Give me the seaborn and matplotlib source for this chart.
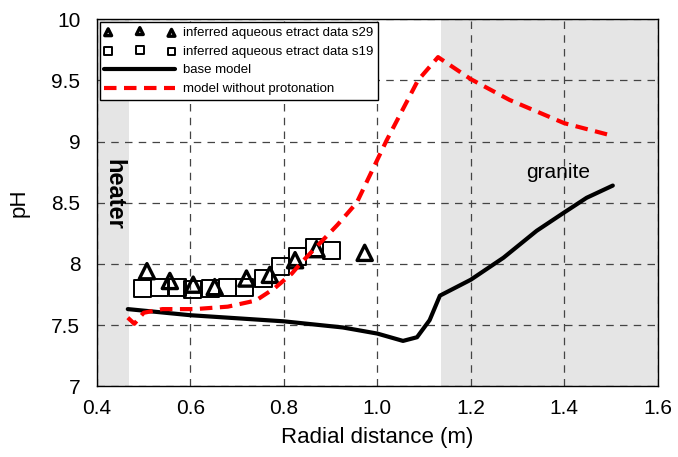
import matplotlib
matplotlib.use("Agg")
import matplotlib.pyplot as plt
import seaborn as sns
import pandas as pd

s29_x = [0.507, 0.556, 0.606, 0.652, 0.72, 0.77, 0.824, 0.87, 0.973]
s29_ph = [7.94, 7.86, 7.83, 7.81, 7.88, 7.91, 8.03, 8.12, 8.09]

s19_x = [0.498, 0.533, 0.573, 0.605, 0.642, 0.68, 0.715, 0.757, 0.793, 0.83, 0.866, 0.903]
s19_ph = [7.80, 7.81, 7.81, 7.79, 7.80, 7.81, 7.81, 7.88, 7.98, 8.06, 8.13, 8.11]

# model curves
base_x = [0.466, 0.6, 0.8, 0.926, 1.0, 1.055, 1.085, 1.112, 1.134, 1.2, 1.27, 1.341, 1.40, 1.448, 1.504]
base_ph = [7.63, 7.58, 7.53, 7.48, 7.43, 7.37, 7.40, 7.54, 7.74, 7.87, 8.05, 8.27, 8.42, 8.54, 8.64]

noprot_x = [0.466, 0.48, 0.50, 0.54, 0.61, 0.68, 0.74, 0.78, 0.817, 0.835, 0.87, 0.915, 0.956,
            1.02, 1.087, 1.13, 1.2, 1.283, 1.4, 1.50]
noprot_ph = [7.56, 7.51, 7.60, 7.63, 7.63, 7.65, 7.70, 7.80, 7.92, 8.0, 8.14, 8.32, 8.5,
             9.01, 9.5, 9.69, 9.51, 9.34, 9.15, 9.05]

heater_edge = 0.468
granite_edge = 1.136

sns.set_style("white")
plt.rcParams['font.family'] = ['Liberation Sans', 'DejaVu Sans']
plt.rcParams['text.color'] = 'black'
plt.rcParams['axes.labelcolor'] = 'black'
plt.rcParams['xtick.color'] = 'black'
plt.rcParams['ytick.color'] = 'black'

fig = plt.figure(figsize=(6.78, 4.57), dpi=100)
ax = fig.add_axes([0.143, 0.155, 0.827, 0.803])

ax.axvspan(0.4, heater_edge, color='#e5e5e5', zorder=0, lw=0)
ax.axvspan(granite_edge, 1.6, color='#e5e5e5', zorder=0, lw=0)

sns.scatterplot(x=s29_x, y=s29_ph, marker='^', s=120, facecolor='none', edgecolor='black',
                linewidth=2.4, ax=ax, label='inferred aqueous etract data s29', zorder=4)
sns.scatterplot(x=s19_x, y=s19_ph, marker='s', s=150, facecolor='none', edgecolor='black',
                linewidth=1.4, ax=ax, label='inferred aqueous etract data s19', zorder=3)

base = pd.DataFrame({'x': base_x, 'ph': base_ph})
noprot = pd.DataFrame({'x': noprot_x, 'ph': noprot_ph})
sns.lineplot(data=base, x='x', y='ph', sort=False, estimator=None, color='black', lw=3,
             ax=ax, label='base model', zorder=5)
sns.lineplot(data=noprot, x='x', y='ph', sort=False, estimator=None, color='red', lw=3,
             ax=ax, label='model without protonation', zorder=5)
ax.lines[-1].set_dashes([3, 1.8])

ax.set_xlim(0.4, 1.6)
ax.set_ylim(7, 10)
ax.set_xticks([0.4, 0.6, 0.8, 1.0, 1.2, 1.4, 1.6])
ax.set_xticklabels(['0.4', '0.6', '0.8', '1.0', '1.2', '1.4', '1.6'])
ax.set_yticks([7, 7.5, 8, 8.5, 9, 9.5, 10])
ax.set_yticklabels(['7', '7.5', '8', '8.5', '9', '9.5', '10'])
ax.tick_params(labelsize=15, length=0)
ax.tick_params(axis='x', pad=9)
ax.tick_params(axis='y', pad=12)
ax.grid(True, linestyle=(0, (6, 5)), color='#444444', lw=0.9)
ax.set_axisbelow(True)
for sp in ax.spines.values():
    sp.set_color('black')
    sp.set_linewidth(1)

ax.set_xlabel('Radial distance (m)', fontsize=16, labelpad=7)
ax.set_ylabel('pH', fontsize=16, labelpad=16)

ax.text(0.437, 8.57, 'heater', rotation=-90, fontsize=17, fontweight='bold',
        ha='center', va='center')
ax.text(1.386, 8.75, 'granite', fontsize=15, ha='center', va='center')

leg = ax.legend(loc='upper left', fontsize=9.5, scatterpoints=3, markerscale=0.45,
                handlelength=5.4, fancybox=False, framealpha=1, edgecolor='black',
                borderaxespad=0.2, labelspacing=0.5, handletextpad=0.6, borderpad=0.35)
leg.get_frame().set_linewidth(1)

fig.savefig('out.png', dpi=100)
